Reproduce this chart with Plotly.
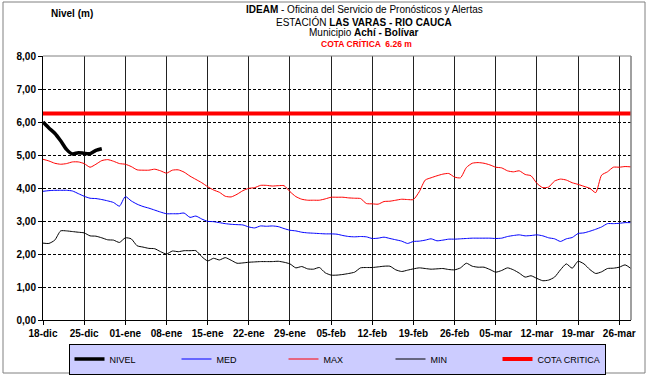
import pandas as pd
import plotly.graph_objects as go

# Daily series starting 18 December
start_date = "2021-12-18"
n_days = 101

nivel = [6.00, 5.82, 5.66, 5.43, 5.17, 5.03, 5.07, 5.05, 5.04, 5.14, 5.19]

maximo = [4.87, 4.82, 4.75, 4.72, 4.74, 4.79, 4.79, 4.74, 4.63, 4.72,
          4.83, 4.86, 4.81, 4.74, 4.72, 4.65, 4.55, 4.54, 4.54, 4.57,
          4.52, 4.45, 4.54, 4.55, 4.48, 4.36, 4.26, 4.16, 4.04, 3.94,
          3.87, 3.75, 3.73, 3.81, 3.92, 3.99, 4.01, 4.08, 4.08, 4.06,
          4.07, 4.07, 3.89, 3.74, 3.66, 3.63, 3.63, 3.63, 3.67, 3.72,
          3.72, 3.72, 3.70, 3.69, 3.68, 3.53, 3.52, 3.51, 3.59, 3.60,
          3.63, 3.66, 3.65, 3.65, 3.89, 4.24, 4.31, 4.37, 4.42, 4.44,
          4.33, 4.31, 4.62, 4.75, 4.77, 4.75, 4.70, 4.63, 4.61, 4.52,
          4.49, 4.52, 4.41, 4.37, 4.14, 4.01, 4.03, 4.21, 4.27, 4.24,
          4.16, 4.11, 4.05, 3.99, 3.86, 4.39, 4.49, 4.63, 4.63, 4.65,
          4.64]

medio = [3.90, 3.92, 3.93, 3.93, 3.93, 3.91, 3.83, 3.75, 3.69, 3.68,
         3.65, 3.61, 3.56, 3.45, 3.74, 3.61, 3.51, 3.44, 3.39, 3.33,
         3.27, 3.22, 3.22, 3.22, 3.24, 3.11, 3.15, 3.06, 2.99, 2.98,
         2.95, 2.92, 2.90, 2.89, 2.88, 2.82, 2.79, 2.85, 2.84, 2.85,
         2.83, 2.77, 2.72, 2.70, 2.66, 2.64, 2.63, 2.62, 2.61, 2.61,
         2.60, 2.56, 2.53, 2.52, 2.53, 2.52, 2.47, 2.48, 2.51, 2.47,
         2.43, 2.39, 2.32, 2.38, 2.39, 2.42, 2.46, 2.40, 2.42, 2.45,
         2.45, 2.46, 2.47, 2.48, 2.48, 2.48, 2.48, 2.47, 2.48, 2.53,
         2.56, 2.58, 2.55, 2.56, 2.58, 2.55, 2.49, 2.46, 2.38, 2.46,
         2.50, 2.62, 2.64, 2.69, 2.75, 2.82, 2.92, 2.92, 2.93, 2.95,
         2.95]

minimo = [2.33, 2.32, 2.42, 2.70, 2.70, 2.68, 2.66, 2.64, 2.55, 2.54,
          2.49, 2.43, 2.42, 2.35, 2.49, 2.46, 2.25, 2.21, 2.17, 2.16,
          2.07, 2.00, 2.09, 2.07, 2.10, 2.10, 2.10, 1.92, 1.79, 1.87,
          1.82, 1.89, 1.81, 1.72, 1.73, 1.75, 1.76, 1.77, 1.77, 1.77,
          1.78, 1.75, 1.70, 1.58, 1.62, 1.55, 1.54, 1.59, 1.43, 1.36,
          1.36, 1.38, 1.41, 1.45, 1.58, 1.59, 1.59, 1.61, 1.63, 1.63,
          1.52, 1.47, 1.51, 1.55, 1.58, 1.56, 1.54, 1.55, 1.56, 1.53,
          1.52, 1.58, 1.72, 1.63, 1.60, 1.60, 1.53, 1.45, 1.50, 1.58,
          1.52, 1.42, 1.30, 1.34, 1.26, 1.19, 1.21, 1.30, 1.52, 1.70,
          1.57, 1.78, 1.70, 1.53, 1.41, 1.46, 1.56, 1.57, 1.60, 1.67,
          1.56]

cota_critica = 6.26

tick_labels = ["18-dic", "25-dic", "01-ene", "08-ene", "15-ene", "22-ene",
               "29-ene", "05-feb", "12-feb", "19-feb", "26-feb", "05-mar",
               "12-mar", "19-mar", "26-mar"]

fechas = pd.date_range(start_date, periods=n_days, freq="D")
tick_dates = pd.date_range(start_date, periods=len(tick_labels), freq="7D")

FONT = "Arial, Liberation Sans, sans-serif"

# plot-area geometry in pixels, used to place paper-referenced items
L, R, T, B = 43, 19, 56, 56
W, H = 650 - L - R, 376 - T - B


def px(x):
    return (x - L) / W


def py(y):
    return (376 - B - y) / H


fig = go.Figure()

fig.add_trace(go.Scatter(x=fechas[:len(nivel)], y=nivel, name="NIVEL", mode="lines",
                         line=dict(color="black", width=3.5, shape="spline", smoothing=0.6)))
fig.add_trace(go.Scatter(x=fechas, y=medio, name="MED", mode="lines",
                         line=dict(color="#0000ff", width=1, shape="spline", smoothing=0.6)))
fig.add_trace(go.Scatter(x=fechas, y=maximo, name="MAX", mode="lines",
                         line=dict(color="#ff0000", width=1, shape="spline", smoothing=0.6)))
fig.add_trace(go.Scatter(x=fechas, y=minimo, name="MIN", mode="lines",
                         line=dict(color="black", width=1, shape="spline", smoothing=0.6)))
fig.add_trace(go.Scatter(x=[fechas[0], fechas[-1]], y=[cota_critica, cota_critica],
                         name="COTA CRITICA", mode="lines",
                         line=dict(color="#ff0000", width=4)))

fig.update_xaxes(
    type="date",
    range=[fechas[0], fechas[-1]],
    tickmode="array", tickvals=tick_dates, ticktext=tick_labels,
    ticks="outside", ticklen=4, tickcolor="black",
    tickfont=dict(family=FONT, size=10, color="black", weight="bold"),
    showgrid=True, gridcolor="#222222", gridwidth=1,
    showline=True, linecolor="black", linewidth=1,
    zeroline=False,
)
fig.update_yaxes(
    range=[0, 8], dtick=1, tick0=0, tickformat=".2f",
    ticks="outside", ticklen=4, tickcolor="black",
    tickfont=dict(family=FONT, size=10, color="black", weight="bold"),
    showgrid=True, gridcolor="black", gridwidth=1, griddash="3px,2px",
    showline=True, linecolor="black", linewidth=1,
    zeroline=False,
)

shapes = [
    # top and right edges of the plot area
    dict(type="line", xref="paper", yref="paper", x0=0, x1=1, y0=1, y1=1,
         line=dict(color="#808080", width=1)),
    dict(type="line", xref="paper", yref="paper", x0=1, x1=1, y0=0, y1=1,
         line=dict(color="#808080", width=1.5)),
    # outer chart frame
    dict(type="rect", xref="paper", yref="paper",
         x0=px(3), x1=px(645), y0=py(373), y1=py(2),
         line=dict(color="#808080", width=1)),
]


def label(text, x, y, size=10, color="black"):
    return dict(text=text, x=px(x), y=py(y), xref="paper", yref="paper",
                xanchor="center", yanchor="middle", showarrow=False,
                font=dict(family=FONT, size=size, color=color))


annotations = [
    label("<b>Nivel (m)</b>", 72, 13),
    label("<b>IDEAM</b> - Oficina del Servicio de Pronósticos y Alertas", 364, 10),
    label("ESTACIÓN <b>LAS VARAS - RIO CAUCA</b>", 364, 22),
    label("Municipio <b>Achí - Bolívar</b>", 364, 33),
    label("<b>COTA CRÍTICA  6.26 m</b>", 366, 44, size=8.5, color="#ff0000"),
]

fig.update_layout(
    width=650, height=376,
    margin=dict(l=L, r=R, t=T, b=B, pad=0, autoexpand=False),
    paper_bgcolor="white", plot_bgcolor="white",
    separators=",.",
    showlegend=True,
    legend=dict(
        orientation="h", x=px(337), y=py(359), xanchor="center", yanchor="middle",
        bgcolor="#ccccff", bordercolor="black", borderwidth=1,
        font=dict(family=FONT, size=9, color="black"),
        entrywidth=62, entrywidthmode="pixels",
        itemwidth=30, tracegroupgap=0,
    ),
    shapes=shapes,
    annotations=annotations,
)

fig.write_html("out.html")
